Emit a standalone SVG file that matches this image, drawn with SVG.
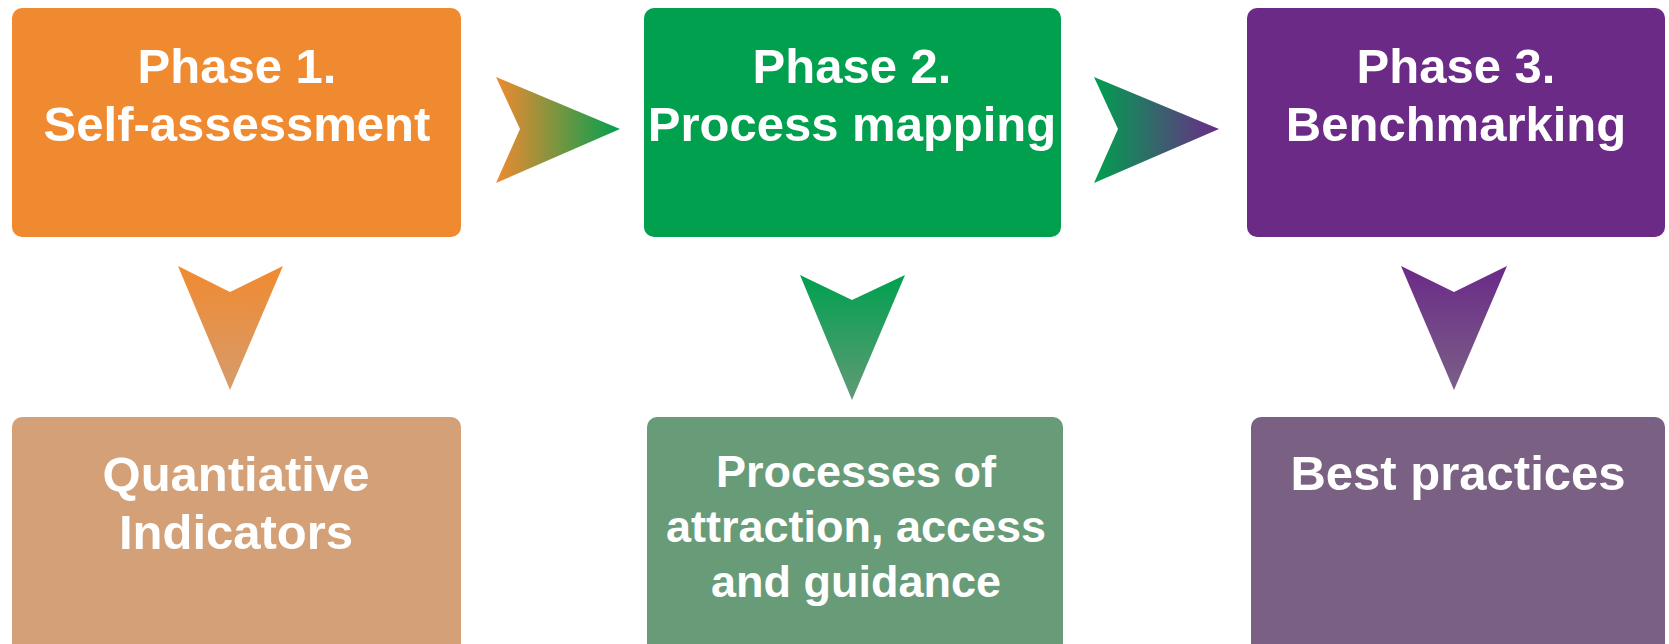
<svg xmlns="http://www.w3.org/2000/svg" width="1669" height="644" viewBox="0 0 1669 644">
<style>
.t{font-family:"Liberation Sans",Arial,sans-serif;font-weight:bold;fill:#FFFFFF;text-anchor:middle}
.big{font-size:49px}
.mid{font-size:45px}
</style>
<defs>
<linearGradient id="gR1" x1="0" y1="0" x2="1" y2="0">
<stop offset="0" stop-color="#F08A30"/><stop offset="1" stop-color="#00A04F"/>
</linearGradient>
<linearGradient id="gR2" x1="0" y1="0" x2="1" y2="0">
<stop offset="0" stop-color="#00A04F"/><stop offset="1" stop-color="#6B2A88"/>
</linearGradient>
<linearGradient id="gD1" x1="0" y1="0" x2="0" y2="1">
<stop offset="0" stop-color="#F08A30"/><stop offset="1" stop-color="#D69C6C"/>
</linearGradient>
<linearGradient id="gD2" x1="0" y1="0" x2="0" y2="1">
<stop offset="0" stop-color="#00A04F"/><stop offset="1" stop-color="#629A76"/>
</linearGradient>
<linearGradient id="gD3" x1="0" y1="0" x2="0" y2="1">
<stop offset="0" stop-color="#6B2A88"/><stop offset="1" stop-color="#7A6087"/>
</linearGradient>
</defs>
<rect width="1669" height="644" fill="#FFFFFF"/>
<g id="phase1">
<rect x="12" y="8" width="449" height="229" rx="10" fill="#F08A30"/>
<text class="t big" x="237" y="83">Phase 1.</text>
<text class="t big" x="237" y="141">Self-assessment</text>
</g>
<g id="phase2">
<rect x="644" y="8" width="417" height="229" rx="10" fill="#00A04F"/>
<text class="t big" x="852" y="83">Phase 2.</text>
<text class="t big" x="852" y="141">Process mapping</text>
</g>
<g id="phase3">
<rect x="1247" y="8" width="418" height="229" rx="10" fill="#6B2A86"/>
<text class="t big" x="1456" y="83">Phase 3.</text>
<text class="t big" x="1456" y="141">Benchmarking</text>
</g>
<g id="indicators">
<rect x="12" y="417" width="449" height="240" rx="10" fill="#D3A077"/>
<text class="t big" x="236" y="491">Quantiative</text>
<text class="t big" x="236" y="549">Indicators</text>
</g>
<g id="processes">
<rect x="647" y="417" width="416" height="240" rx="10" fill="#689B78"/>
<text class="t mid" x="856" y="487">Processes of</text>
<text class="t mid" x="856" y="542">attraction, access</text>
<text class="t mid" x="856" y="597">and guidance</text>
</g>
<g id="bestpractices">
<rect x="1251" y="417" width="414" height="240" rx="10" fill="#7A6184"/>
<text class="t big" x="1458" y="490">Best practices</text>
</g>
<g id="connectors">
<polygon points="496,77 620,129 496,183 520,129" fill="url(#gR1)"/>
<polygon points="1094,77 1219,129 1094,183 1118,129" fill="url(#gR2)"/>
<polygon points="178,266 230,292 283,266 230,390" fill="url(#gD1)"/>
<polygon points="800,275 852,300 905,275 852,400" fill="url(#gD2)"/>
<polygon points="1401,266 1454,292 1507,266 1454,390" fill="url(#gD3)"/>
</g>
</svg>
